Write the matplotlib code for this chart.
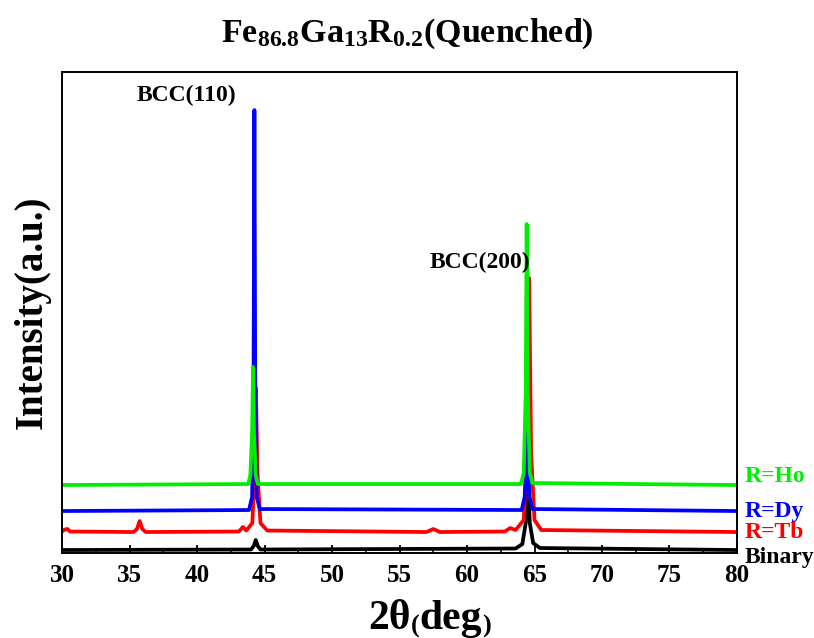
import matplotlib
matplotlib.use("Agg")
import matplotlib.pyplot as plt
from matplotlib.ticker import MultipleLocator

plt.rcParams['font.family'] = ['Liberation Serif', 'DejaVu Serif']
plt.rcParams['font.weight'] = 'bold'
plt.rcParams['mathtext.fontset'] = 'custom'
plt.rcParams['mathtext.rm'] = 'Liberation Serif:bold'
plt.rcParams['mathtext.bf'] = 'Liberation Serif:bold'
plt.rcParams['mathtext.default'] = 'rm'

# XRD traces, offset intensities (a.u.)
binary_x = [30, 44.0, 44.2, 44.35, 44.5, 44.7, 63.6, 64.1, 64.35, 64.5, 64.65, 64.9, 65.4, 80]
binary_y = [30, 35, 70, 130, 70, 35, 45, 90, 300, 830, 300, 100, 50, 30]

tb_x = [30, 30.2, 30.4, 30.6, 35.3, 35.55, 35.75, 35.95, 36.2, 43.1, 43.4, 43.65,
        44.1, 44.25, 44.36, 44.48, 44.7, 45.2, 57.0, 57.5, 58.0, 62.8, 63.2, 63.6,
        64.2, 64.45, 64.6, 64.75, 65.0, 65.5, 80]
tb_y = [215, 235, 240, 215, 210, 240, 320, 240, 210, 215, 260, 225,
        300, 800, 1650, 800, 300, 225, 210, 240, 210, 215, 250, 230,
        330, 1000, 2750, 1000, 330, 230, 210]

dy_x = [30, 43.85, 44.08, 44.19, 44.25, 44.31, 44.42, 44.65, 64.05, 64.27, 64.39, 64.45, 64.51, 64.63, 64.85, 80]
dy_y = [420, 430, 560, 1800, 4430, 1800, 560, 440, 430, 560, 900, 1210, 900, 560, 440, 420]

ho_x = [30, 43.8, 43.95, 44.08, 44.15, 44.22, 44.35, 44.5, 64.0, 64.2, 64.35, 64.42, 64.5, 64.65, 64.85, 80]
ho_y = [680, 690, 780, 1200, 1860, 1200, 780, 690, 690, 800, 1600, 3290, 1600, 800, 700, 680]

labels = ['Binary', 'R=Tb', 'R=Dy', 'R=Ho']
label_y = [-40, 210, 420, 770]
colors = ['black', 'red', 'blue', '#00ee00']

fig = plt.figure(figsize=(8.14, 6.38), dpi=100)
ax = fig.add_axes([0.0762, 0.1332, 0.8292, 0.7538])

series = [(binary_x, binary_y), (tb_x, tb_y), (dy_x, dy_y), (ho_x, ho_y)]
for (xs, ys), c in zip(series, colors):
    ax.plot(xs, ys, color=c, lw=2.7, solid_joinstyle='round')

for lab, yy, c in zip(labels, label_y, colors):
    ax.text(1.012, yy, lab, color=c, fontsize=17, fontweight='bold',
            va='center', ha='left', transform=ax.get_yaxis_transform(), clip_on=False)

ax.text(35.56, 4580, 'BCC(110)', fontsize=17, fontweight='bold', va='center')
ax.text(57.26, 2910, 'BCC(200)', fontsize=17, fontweight='bold', va='center')

ax.set_xlim(30, 80)
ax.set_ylim(0, 4810)
ax.xaxis.set_major_locator(MultipleLocator(5))
ax.xaxis.set_minor_locator(MultipleLocator(2.5))
ax.tick_params(axis='x', which='major', direction='in', length=6, width=1.3,
               labelsize=18, pad=8, top=False)
ax.tick_params(axis='x', which='minor', direction='in', length=3.5, width=1.1, top=False)
ax.set_yticks([])
for s in ax.spines.values():
    s.set_linewidth(1.4)
for t in ax.get_xticklabels():
    t.set_fontweight('bold')

ax.set_ylabel('Intensity(a.u.)', fontsize=28, fontweight='bold', labelpad=8)

# x label with small parentheses
t1 = fig.text(0.452, 0.014, '2θ', fontsize=30, fontweight='bold', ha='left', va='baseline')
t2 = ax.annotate('(', xy=(1, 0), xycoords=t1, fontsize=19, fontweight='bold', va='bottom', ha='left')
t3 = ax.annotate('deg', xy=(1, 0), xycoords=t2, fontsize=30, fontweight='bold', va='bottom', ha='left')
ax.annotate(')', xy=(1, 0), xycoords=t3, fontsize=19, fontweight='bold', va='bottom', ha='left')

fig.text(0.5, 0.935, 'Fe$_{86.8}$Ga$_{13}$R$_{0.2}$(Quenched)', fontsize=24.5,
         fontweight='bold', ha='center', va='baseline')

fig.savefig('out.png', dpi=100)
